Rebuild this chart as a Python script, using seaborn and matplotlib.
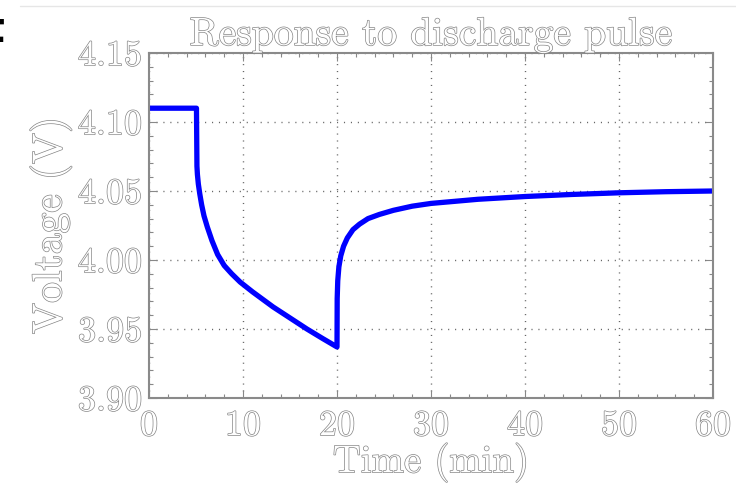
import matplotlib
matplotlib.use("Agg")
import matplotlib.pyplot as plt
import matplotlib.patheffects as pe
from matplotlib.ticker import MultipleLocator
from matplotlib.lines import Line2D
import seaborn as sns
import pandas as pd

# Cell voltage before, during and after a 15-minute discharge pulse
time_min = [0.0, 5.05, 5.1, 5.15, 5.25, 5.4, 5.6, 5.85, 6.2, 6.7, 7.3, 8.0, 8.8,
            9.7, 11.0, 13.2, 15.0, 16.8, 18.5, 20.0,
            20.02, 20.08, 20.2, 20.4, 20.7, 21.1, 21.7, 22.4, 23.3, 24.5, 26.0,
            28.0, 30.0, 35.0, 40.0, 45.0, 50.0, 55.0, 60.0]
voltage_v = [4.110, 4.110, 4.068, 4.062, 4.055, 4.048, 4.040, 4.032, 4.024, 4.014,
             4.004, 3.996, 3.990, 3.984, 3.977, 3.966, 3.958, 3.950, 3.943, 3.937,
             3.972, 3.985, 3.995, 4.003, 4.010, 4.016, 4.022, 4.026, 4.030, 4.033,
             4.036, 4.039, 4.041, 4.044, 4.046, 4.0475, 4.0487, 4.0495, 4.050]

title = "Response to discharge pulse"
x_label = "Time (min)"
y_label = "Voltage (V)"
x_ticks = [0, 10, 20, 30, 40, 50, 60]
y_ticks = [3.90, 3.95, 4.00, 4.05, 4.10, 4.15]

df = pd.DataFrame({"t": time_min, "v": voltage_v})

sns.set_style("ticks")
plt.rcParams["font.family"] = ["cmr10", "DejaVu Serif"]
plt.rcParams["axes.formatter.use_mathtext"] = True

fig = plt.figure(figsize=(7.36, 4.85), dpi=100)
ax = fig.add_axes([149 / 736, 1 - 399 / 485, 564 / 736, 345 / 485])

sns.lineplot(data=df, x="t", y="v", ax=ax, color="#0000ff", linewidth=3.8,
             estimator=None, sort=False)

ax.set_xlim(0, 60)
ax.set_ylim(3.90, 4.15)
ax.set_xticks(x_ticks)
ax.set_yticks(y_ticks)
ax.set_xticklabels([str(v) for v in x_ticks])
ax.set_yticklabels([f"{v:.2f}" for v in y_ticks])
ax.xaxis.set_minor_locator(MultipleLocator(2))
ax.yaxis.set_minor_locator(MultipleLocator(0.01))

ax.grid(True, which="major", color="#666666", linestyle=(0, (0.8, 4.2)),
        linewidth=1.0)
ax.tick_params(which="both", direction="in", top=True, right=True,
               color="#888888", labelsize=26)
ax.tick_params(axis="x", pad=9)
ax.tick_params(axis="y", pad=5)
ax.tick_params(which="major", length=6, width=0.8)
ax.tick_params(which="minor", length=3, width=0.8)
for s in ax.spines.values():
    s.set_color("#8a8a8a")
    s.set_linewidth(1.5)

# hollow lettering: white fill with a thin grey outline
outline = [pe.withStroke(linewidth=1.0, foreground="#858585")]
ax.set_title(title, fontsize=28.5, pad=4)
ax.set_xlabel(x_label, fontsize=28, labelpad=0)
ax.set_ylabel(y_label, fontsize=30, labelpad=4)

for txt in [ax.title, ax.xaxis.label, ax.yaxis.label,
            *ax.get_xticklabels(), *ax.get_yticklabels()]:
    txt.set_color("white")
    txt.set_path_effects(outline)

# thin rule along the top edge and the clipped letter at the left margin
fig.add_artist(Line2D([20 / 736, 1.0], [1 - 7 / 485, 1 - 7 / 485],
                      transform=fig.transFigure, color="#e6e6e6", linewidth=1))
fig.text(-0.021, 1 - 30 / 485, "t", fontsize=30, fontweight="bold",
         color="black", family="DejaVu Sans", va="center", ha="left")

fig.savefig("out.png", dpi=100)
